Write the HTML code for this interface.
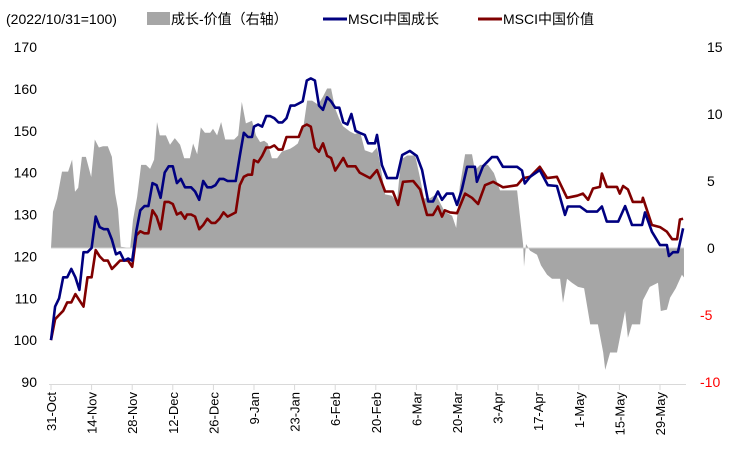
<!DOCTYPE html>
<html><head><meta charset="utf-8"><style>
body{margin:0;background:#fff;}
svg text{font-family:"Liberation Sans","Noto Sans CJK SC",sans-serif;}
</style></head><body>
<svg id="chart" width="731" height="455" xmlns="http://www.w3.org/2000/svg">
<g>
<text x="6" y="24" font-size="14" fill="#000">(2022/10/31=100)</text>
<rect x="147" y="12" width="23" height="13" fill="#a6a6a6"/>
<text x="171" y="24" font-size="14" fill="#000">成长-价值（右轴）</text>
<line x1="323" y1="19" x2="347" y2="19" stroke="#000080" stroke-width="3"/>
<text x="348" y="24" font-size="14" fill="#000">MSCI中国成长</text>
<line x1="478" y1="19" x2="502" y2="19" stroke="#800000" stroke-width="3"/>
<text x="503" y="24" font-size="14" fill="#000">MSCI中国价值</text>
</g>
<g id="plot"></g>
</svg>
<script>
const leftTicks=[90,100,110,120,130,140,150,160,170];
const rightTicks=[-10,-5,0,5,10,15];
const xTickLabels=["31-Oct","14-Nov","28-Nov","12-Dec","26-Dec","9-Jan","23-Jan","6-Feb","20-Feb","6-Mar","20-Mar","3-Apr","17-Apr","1-May","15-May","29-May"];
const xTickDays=[0,10,20,30,40,50,60,70,80,90,100,110,120,130,140,150];
const blueDays=[0,1,2,3,4,5,6,7,8,9,10,11,12,13,14,15,16,17,18,19,20,21,22,23,24,25,26,27,28,29,30,31,32,33,33.5,34.5,35.5,36.5,37.5,38.5,39.5,40.5,41.5,42.5,43.5,44.5,45.5,46.5,47.5,48.5,49.5,50,51,52,53,54,55,56,57,58,59,60,61,62,63,64,65,66,67,68,69,70,71,72,73,74,75,76,
77.3,78.1,79.8,80.3,81.5,82.8,85.2,86.5,88.4,90.1,91.4,92.9,94.1,95.3,96.3,97.5,99,100,101.2,102.5,104.4,104.9,106.4,108.6,109.9,111.3,114.8,116,116.7,118,120.4,122.4,124.6,126.6,127.3,130.3,132,134.5,135.7,136.9,139.7,141.4,143.1,145.6,146.3,148,150,151.7,152.2,153.2,154.4,155.7];
const blueVals=[100,108,110,115,115,117,115,112,121,121,122,129.5,127,126.5,126.5,124,120.5,121,119,119.5,119,126,131,132,132,137.5,137,134,140,141.5,141.5,137.5,138.5,136.5,136.5,136.5,135.5,133.5,138,136.5,136.5,137,138.5,138.5,138,138,138,144,149.5,148.5,148.5,151,151.5,151,153.5,153.5,153,152,152,153,156,156,156.5,157,162,162.5,162,156,155,158,157,155.5,155.5,152,151.5,154,150,149.5,
149,147,147,149,141.8,138.7,138.7,144.2,145.2,144,140.6,133.1,133.1,135.5,133.5,135,135,132.3,136,141.4,141.4,137.8,141.5,143.7,143.7,141.4,141.4,140.5,137.4,139,140.6,137,136.8,129.9,131.9,131.9,130.7,130.7,131.9,128.3,128.3,132,127.5,127.5,130.5,125.9,122.7,122.7,120.1,121,121,126.7];
const redDays=[0,1,2,3,4,5,6,7,8,9,10,11,12,13,14,15,16,17,18,19,20,21,22,23,24,25,26,27,28,29,30,31,32,33,33.5,34.5,35.5,36.5,37.5,38.5,39.5,40.5,41.5,42.5,43.5,44.5,45.5,46.5,47.5,48.5,49.5,50,51,52,53,54,55,56,57,58,59,60,61,62,63,64,65,66,67,68,69,70,71,72,73,74,75,76,
78.6,80.3,82.3,84.2,85.5,86.7,89.2,90.9,92.6,94.1,95.3,96.3,97,98.3,100,102,103.7,105.2,106.9,108.9,111.3,114.8,116.3,118,120.4,122.2,124.6,127.1,129.6,131,132.3,133.5,135.2,135.7,136.9,139.4,140.1,140.9,142.1,143.3,145.6,145.8,148,150,151.7,153,154.2,154.9,155.7];
const redVals=[100,105,106,107,109,109,111,109.5,108,115,115,121.5,120,119,119,117,118,119,119,119,117.5,125,126,125.5,125.5,131,129.5,126.5,133,133,132.5,130,130.5,129,130,130,129.5,126.5,127.5,129,128,128,129,130.5,129.5,130,130.5,137,139,139.5,139.5,143,142.5,144,146,146,146.5,145.5,145.5,148.5,148.5,148.5,148.5,151,151.5,151,146,145,147,144,143.5,140.5,142,143.5,141.5,141.5,141.5,140,
138.7,140.6,135.5,135.5,132.3,137.8,138,136,129.9,129.9,131.9,129.5,131,130.5,130.3,135,134,132.5,137,137.8,136.5,137,138.7,139,141.4,138.7,139,134,134.5,135,133.5,136.2,136.6,139.8,136.6,136.6,135,136.8,136,133,133,134,127.5,127,125.9,124.1,124.1,128.8,129];
const spreadDays=[0,0.5,1.5,2.7,4.2,5.2,5.9,6.7,7.6,8.6,9.9,10.8,11.8,12.8,14,15,15.8,16.5,17.2,19.5,20.2,21.2,22.2,23.4,24.4,25.4,26.1,26.8,28.3,29.3,30.5,31.8,32.8,34.2,35,36,36.9,37.9,39.2,39.9,40.9,41.9,42.9,45.1,46.1,47,48,49.5,50.5,51.5,52.5,53.4,54.4,55.7,56.9,58.9,59.9,60.8,62.1,63.1,64.3,65.8,67,68,69,70,70.9,71.9,73.6,74.9,76.1,77.3,79.1,80.3,81,82.3,84,85.2,86.2,87.7,89.7,90.9,91.9,93.3,94.8,95.8,97,98.8,99.8,100.7,102,103.7,104.4,105.7,107.6,109.1,110.6,114.8,115.5,116.3,116.5,117,118,119.7,120.7,122.2,123.4,125.4,126.1,127.1,128.3,129.8,131.3,132.8,134.7,136,136.5,137.7,139.4,141.4,142.1,143.1,145.1,145.8,147.5,149.5,150.2,151.7,152.5,153.9,155.4,155.9];
const spreadVals=[0,2.7,3.7,5.7,5.7,6.6,4.2,4.5,6.8,6.8,5.3,8.1,7.5,7.6,7.6,6.8,4.1,2.9,0.1,0,2.1,3.8,6.2,6.2,5.9,6.6,9.4,8.4,8.4,7.7,8.2,7.7,6.7,6.7,7.8,7,9,8.6,8.6,8.9,8.4,9.4,8.1,8.1,8.4,10.9,9.3,9.5,8.4,7.9,8,7.8,6.7,6.7,7.2,7.4,7.6,7.8,8.9,11,11,10.7,11.3,11.9,11.9,10.4,9.7,9.1,8.7,8.5,8.7,7.3,7.1,7.5,6.4,4,3.9,3.4,6.6,6.9,6.9,5.2,3.7,3.7,4,3.4,2.7,2.4,1.5,4.6,7,7,5.8,6.2,6.2,5.6,4.3,4.3,2.4,0.2,-1.4,0.3,-0.2,-0.5,-1.3,-2,-2.3,-2.3,-4.1,-2.3,-2.6,-2.9,-3,-5.7,-5.7,-7.8,-9.1,-7.8,-7.8,-4.7,-6.7,-5.7,-5.7,-3.9,-2.9,-2.6,-4.7,-4.6,-3.7,-3,-2,-2.2];

const NS="http://www.w3.org/2000/svg";
const plot=document.getElementById("plot");
const X0=51,PX=4.06,TOP=47,BOT=382;
function xs(d){return X0+d*PX;}
function yl(v){return TOP+(170-v)/80*(BOT-TOP);}
function yr(v){return TOP+(15-v)/25*(BOT-TOP);}
function mk(tag,attrs){const e=document.createElementNS(NS,tag);for(const k in attrs)e.setAttribute(k,attrs[k]);plot.appendChild(e);return e;}

// area
let d="M"+xs(spreadDays[0])+","+yr(0);
spreadDays.forEach((t,i)=>{d+=" L"+xs(t).toFixed(1)+","+yr(spreadVals[i]).toFixed(1);});
d+=" L"+xs(spreadDays[spreadDays.length-1])+","+yr(0)+" Z";
const area=mk("path",{d:d,fill:"#a6a6a6",stroke:"none"});


const zl=mk("line",{x1:xs(0),x2:xs(spreadDays[spreadDays.length-1]),y1:yr(0),y2:yr(0),stroke:"#d0d0d0","stroke-width":1});



function line(days,vals,color){
  let p="";days.forEach((t,i)=>{p+=(i?" L":"M")+xs(t).toFixed(1)+","+yl(vals[i]).toFixed(1);});
  return mk("path",{d:p,fill:"none",stroke:color,"stroke-width":2.6,"stroke-linejoin":"round"});
}
const redL=line(redDays,redVals,"#800000");


const blueL=line(blueDays,blueVals,"#000080");



// x axis
const ax=mk("line",{x1:49,x2:686,y1:384.5,y2:384.5,stroke:"#d9d9d9","stroke-width":1});


xTickDays.forEach((t,i)=>{
  const tk=mk("line",{x1:xs(t),x2:xs(t),y1:384,y2:390,stroke:"#d9d9d9","stroke-width":1});
  
  
  const tx=mk("text",{x:0,y:0,"font-size":13,fill:"#000","text-anchor":"end",transform:"translate("+(xs(t)+5)+",392) rotate(-90)"});
  tx.textContent=xTickLabels[i];
  
  
});
leftTicks.forEach(v=>{
  const t=mk("text",{x:37,y:yl(v)+5,"font-size":14,fill:"#000","text-anchor":"end"});
  t.textContent=v;
  
  
});
rightTicks.forEach(v=>{
  const t=mk("text",{x:v<0?700:707,y:yr(v)+5,"font-size":14,fill:v<0?"#ff0000":"#000","text-anchor":"start"});
  t.textContent=v;
  
  
});
</script>
</body></html>
